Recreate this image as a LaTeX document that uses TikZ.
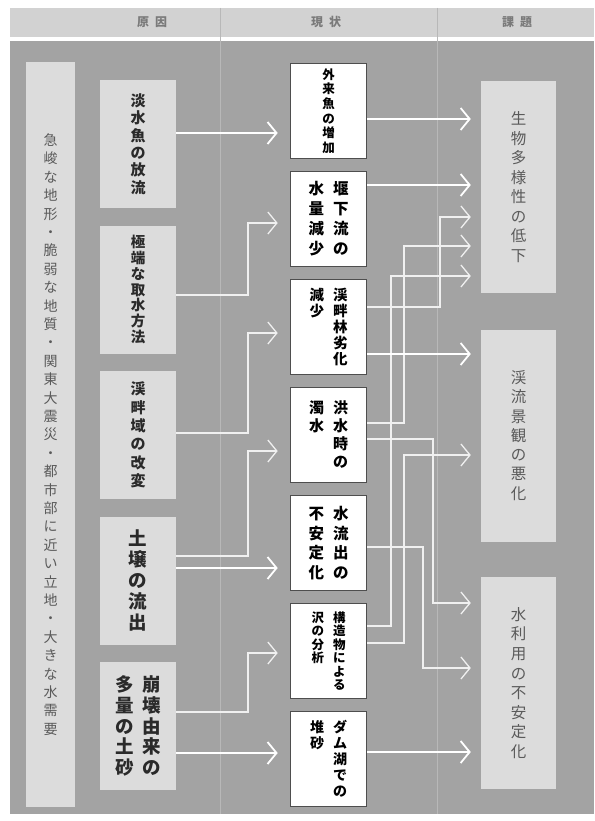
\documentclass[tikz,border=0pt]{standalone}
\usepackage{fontspec}
\setmainfont{Noto Sans CJK JP}
\usetikzlibrary{arrows.meta,calc}
\makeatletter
\newcommand\tate[2][1.2em]{\vtop{\baselineskip=#1\relax\lineskiplimit=-\maxdimen\lineskip=0pt\@tfor\tate@c:=#2\do{\hbox to 1em{\hss\tate@c\hss}}}}
\makeatother
\newcommand\fsz[1]{\fontsize{#1}{#1}\selectfont}
\definecolor{bgdark}{HTML}{A3A3A3}
\definecolor{boxlight}{HTML}{DCDCDC}
\definecolor{headband}{HTML}{D2D2D2}
\definecolor{divline}{HTML}{B8B8B8}
\definecolor{sborder}{HTML}{4E4E4E}
\definecolor{txtdark}{HTML}{2A2A2A}
\definecolor{txtgray}{HTML}{5A5A5A}
\definecolor{headtxt}{HTML}{7A7A7A}
\tikzset{
  causebox/.style={fill=boxlight, minimum width=76pt, minimum height=128pt, inner sep=0pt, text=txtdark},
  statbox/.style={fill=white, draw=sborder, line width=1.6pt, minimum width=76pt, minimum height=95pt, inner sep=0pt, text=black},
  probbox/.style={fill=boxlight, minimum width=75pt, minimum height=212pt, inner sep=0pt, text=txtgray},
  headlabel/.style={text=headtxt, font=\bfseries\fsz{12}, inner sep=0pt},
  conn/.style={draw=white, line width=1.8pt, -{Straight Barb[length=9pt,width=22pt]}},
  elb/.style={conn, draw=white!94!black, line width=1.3pt},
  divider/.style={draw=divline, line width=1pt}
}
\begin{document}
\begin{tikzpicture}[x=1pt,y=-1pt]
\useasboundingbox (0,0) rectangle (594,821);
\fill[white] (0,0) rectangle (594,821);
% header band and dark background
\fill[headband] (10,8) rectangle (594,37);
\fill[bgdark] (10,41) rectangle (594,814);
\draw[divider] (220,8) -- (220,814);
\draw[divider] (437,8) -- (437,814);
\node[headlabel] (h1) at (152,22) {原\hspace{6pt}因};
\node[headlabel] (h2) at (326,22) {現\hspace{6pt}状};
\node[headlabel] (h3) at (517,22) {課\hspace{6pt}題};
% left tall box
\node[fill=boxlight, minimum width=49pt, minimum height=745pt, inner sep=0pt, text=txtgray] (L) at (50.5,434.5)
  {\fsz{14}\tate[18.4pt]{急峻な地形・脆弱な地質・関東大震災・都市部に近い立地・大きな水需要}};
% cause boxes
\node[causebox] (C1) at (138,144) {\bfseries\fsz{15}\tate[17.4pt]{淡水魚の放流}};
\node[causebox] (C2) at (138,289.5) {\bfseries\fsz{14.5}\tate[15.8pt]{極端な取水方法}};
\node[causebox] (C3) at (138,435) {\bfseries\fsz{15}\tate[18.4pt]{渓畔域の改変}};
\node[causebox] (C4) at (138,580.5) {\bfseries\fsz{18.5}\tate[21pt]{土壌の流出}};
\node[causebox] (C5) at (138,726) {\bfseries\fsz{18.5}\tate[20.8pt]{多量の土砂}\hspace{8pt}\tate[20.8pt]{崩壊由来の}};
% status boxes
\node[statbox] (S1) at (328.5,111) {\bfseries\fsz{12.5}\tate[14.6pt]{外来魚の増加}};
\node[statbox] (S2) at (328.5,219) {\bfseries\fsz{15.5}\tate[20pt]{水量減少}\hspace{9pt}\tate[20pt]{堰下流の}};
\node[statbox] (S3) at (328.5,327) {\bfseries\fsz{14.5}\tate[16pt]{減少}\hspace{9pt}\tate[16pt]{渓畔林劣化}};
\node[statbox] (S4) at (328.5,435) {\bfseries\fsz{15}\tate[18pt]{濁水}\hspace{9pt}\tate[18pt]{洪水時の}};
\node[statbox] (S5) at (328.5,543) {\bfseries\fsz{15.5}\tate[19.5pt]{不安定化}\hspace{9pt}\tate[19.5pt]{水流出の}};
\node[statbox] (S6) at (328.5,651) {\bfseries\fsz{12.5}\tate[13.5pt]{沢の分析}\hspace{9pt}\tate[13.5pt]{構造物による}};
\node[statbox] (S7) at (328.5,759) {\bfseries\fsz{14}\tate[16pt]{堆砂}\hspace{9pt}\tate[16pt]{ダム湖での}};
% problem boxes
\node[probbox] (P1) at (518.5,187) {\fsz{15.5}\tate[19.5pt]{生物多様性の低下}};
\node[probbox] (P2) at (518.5,435.5) {\fsz{15.5}\tate[19.3pt]{渓流景観の悪化}};
\node[probbox] (P3) at (518.5,683) {\fsz{15.5}\tate[19.6pt]{水利用の不安定化}};
% cause -> status
\draw[conn] (C1.east|-0,133) -- ($(S1.west|-0,133)+(-12,0)$);
\draw[elb] (C2.east|-0,295) -| (248,223) -- ($(S2.west|-0,223)+(-12,0)$);
\draw[elb] (C3.east|-0,433) -| (248,333) -- ($(S3.west|-0,333)+(-12,0)$);
\draw[elb] (C4.east|-0,556) -| (248,451) -- ($(S4.west|-0,451)+(-12,0)$);
\draw[conn] (C4.east|-0,568) -- ($(S5.west|-0,568)+(-12,0)$);
\draw[elb] (C5.east|-0,712) -| (248,653) -- ($(S6.west|-0,653)+(-12,0)$);
\draw[conn] (C5.east|-0,753) -- ($(S7.west|-0,753)+(-12,0)$);
% status -> problem
\draw[conn] (S1.east|-0,119) -- ($(P1.west|-0,119)+(-10,0)$);
\draw[conn] (S2.east|-0,185) -- ($(P1.west|-0,185)+(-10,0)$);
\draw[elb] (S3.east|-0,307) -| (440,217) -- ($(P1.west|-0,217)+(-10,0)$);
\draw[elb] (S4.east|-0,423) -| (404,246) -- ($(P1.west|-0,246)+(-10,0)$);
\draw[elb] (S6.east|-0,626) -| (391,276) -- ($(P1.west|-0,276)+(-10,0)$);
\draw[conn] (S3.east|-0,354) -- ($(P2.west|-0,354)+(-10,0)$);
\draw[elb] (S6.east|-0,643) -| (404,455) -- ($(P2.west|-0,455)+(-10,0)$);
\draw[elb] (S4.east|-0,439) -| (433,603) -- ($(P3.west|-0,603)+(-10,0)$);
\draw[elb] (S5.east|-0,547) -| (423,668) -- ($(P3.west|-0,668)+(-10,0)$);
\draw[conn] (S7.east|-0,752) -- ($(P3.west|-0,752)+(-10,0)$);
\end{tikzpicture}
\end{document}
